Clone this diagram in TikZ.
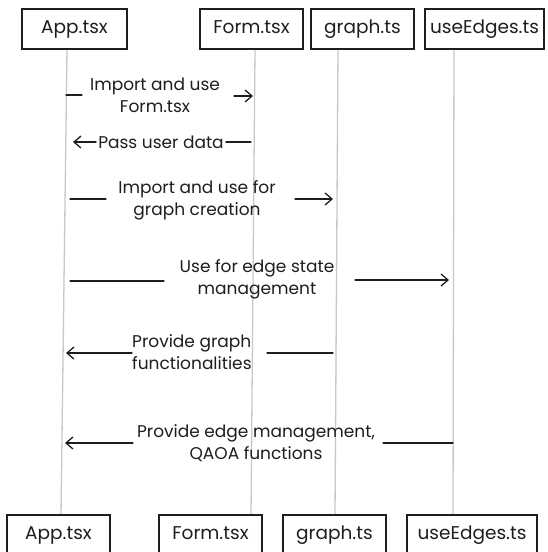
\documentclass[tikz,border=0pt]{standalone}
\usepackage{fontspec}
\setmainfont{Poppins}
\usetikzlibrary{arrows.meta}
\definecolor{ink}{HTML}{1E1E1E}
\definecolor{lifegray}{HTML}{C8C8C8}
\begin{document}
\begin{tikzpicture}[x=1pt,y=-1pt,
 box/.style={draw=ink, line width=1.4pt, fill=white, minimum height=40pt, inner sep=0pt, text=ink, text height=13pt, text depth=4pt, font=\fontsize{18.5}{22}\selectfont},
 life/.style={draw=lifegray, line width=1.3pt},
 msg/.style={draw=ink, line width=1.3pt, line cap=round},
 arr/.style={msg, -{Straight Barb[length=7pt,width=12pt,line width=1.3pt]}},
 lbl/.style={inner sep=0pt, font=\fontsize{17}{22}\selectfont, align=center, text=ink}]
\clip (0,0) rectangle (547,552);
\fill[white] (0,0) rectangle (547,552);
% lifeline end points
\coordinate (appTop) at (67,49);  \coordinate (appBot) at (61,515);
\coordinate (formTop) at (255,49); \coordinate (formBot) at (251,515);
\coordinate (graphTop) at (338,49); \coordinate (graphBot) at (335,515);
\coordinate (edgeTop) at (454,49); \coordinate (edgeBot) at (453,515);
\draw[life] (appTop) -- (appBot);
\draw[life] (formTop) -- (formBot);
\draw[life] (graphTop) -- (graphBot);
\draw[life] (edgeTop) -- (edgeBot);
% top boxes
\node[box, minimum width=105pt] (appT) at (74.5,29) {App.tsx};
\node[box, minimum width=103pt] (formT) at (251.5,29) {Form.tsx};
\node[box, minimum width=103pt] (graphT) at (362.5,29) {graph.ts};
\node[box, minimum width=119pt] (edgeT) at (484.5,29) {useEdges.ts};
% bottom boxes
\node[box, minimum width=103pt] (appB) at (58.5,535) {App.tsx};
\node[box, minimum width=103pt] (formB) at (210.5,535) {Form.tsx};
\node[box, minimum width=103pt] (graphB) at (334.5,535) {graph.ts};
\node[box, minimum width=130pt] (edgeB) at (472,535) {useEdges.ts};
% message 1
\node[lbl] (m1) at (155,95) {Import and use\\Form.tsx};
\coordinate (m1s) at (66,95); \coordinate (m1a) at (82,95);
\coordinate (m1b) at (234,96); \coordinate (m1t) at (253,96);
\draw[msg] (m1s) -- (m1a);
\draw[arr] (m1b) -- (m1t);
% message 2
\node[lbl] (m2) at (161,142) {Pass user data};
\coordinate (m2s) at (251,142); \coordinate (m2t) at (73,142);
\draw[msg] (m2s) -- ([xshift=2pt]m2.east);
\draw[arr] ([xshift=-2pt]m2.west) -- (m2t);
% message 3
\node[lbl] (m3) at (197,200) {Import and use for\\graph creation};
\coordinate (m3s) at (70,199); \coordinate (m3a) at (106,199);
\coordinate (m3b) at (295,199); \coordinate (m3t) at (333,199);
\draw[msg] (m3s) -- (m3a);
\draw[arr] (m3b) -- (m3t);
% message 4
\node[lbl] (m4) at (257,279) {Use for edge state\\management};
\coordinate (m4s) at (70,281); \coordinate (m4a) at (164,281);
\coordinate (m4b) at (355,280); \coordinate (m4t) at (449,280);
\draw[msg] (m4s) -- (m4a);
\draw[arr] (m4b) -- (m4t);
% message 5
\node[lbl, align=left, anchor=west] (m5) at (132,352.5) {Provide graph\\functionalities};
\coordinate (m5s) at (333,353); \coordinate (m5a) at (267,353);
\coordinate (m5b) at (132,353); \coordinate (m5t) at (66,353);
\draw[msg] (m5s) -- (m5a);
\draw[arr] (m5b) -- (m5t);
% message 6
\node[lbl] (m6) at (256,443) {Provide edge management,\\QAOA functions};
\coordinate (m6s) at (453,443); \coordinate (m6a) at (383,443);
\coordinate (m6b) at (133,443); \coordinate (m6t) at (65,443);
\draw[msg] (m6s) -- (m6a);
\draw[arr] (m6b) -- (m6t);
\end{tikzpicture}
\end{document}
